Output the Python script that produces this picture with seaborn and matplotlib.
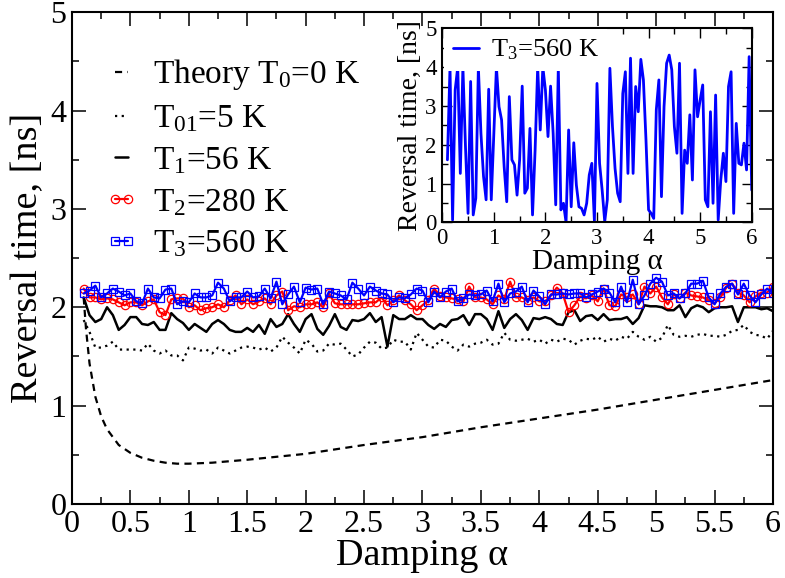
import numpy as np
import pandas as pd
import matplotlib
matplotlib.use("Agg")
import matplotlib.pyplot as plt
from matplotlib.ticker import MultipleLocator
import seaborn as sns

# ---------------- data ----------------
theory_alpha = [0.1, 0.12, 0.15, 0.2, 0.25, 0.3, 0.4, 0.5, 0.6, 0.7, 0.8, 0.9, 1.0,
                1.2, 1.5, 2.0, 2.5, 3.0, 3.5, 4.0, 4.5, 5.0, 5.5, 6.0]
theory_T0 = [2.10, 1.78, 1.43, 1.09, 0.89, 0.76, 0.60, 0.52, 0.47, 0.44, 0.42, 0.41, 0.41,
             0.42, 0.45, 0.51, 0.60, 0.68, 0.78, 0.87, 0.96, 1.06, 1.16, 1.26]

T01_5K = [1.87, 1.75, 1.59, 1.59, 1.61, 1.65, 1.57, 1.57, 1.57, 1.57, 1.56, 1.63, 1.56, 1.53,
          1.56, 1.51, 1.51, 1.46, 1.59, 1.58, 1.56, 1.57, 1.53, 1.59, 1.56, 1.53, 1.56, 1.59,
          1.60, 1.59, 1.57, 1.59, 1.55, 1.59, 1.70, 1.64, 1.59, 1.53, 1.67,
          1.63, 1.55, 1.56, 1.63, 1.62, 1.63, 1.57, 1.50, 1.52, 1.59, 1.65, 1.64, 1.58, 1.59,
          1.67, 1.65, 1.65, 1.57, 1.74, 1.67, 1.60, 1.59, 1.67, 1.66, 1.60, 1.56, 1.62, 1.60,
          1.63, 1.64, 1.67, 1.62, 1.63, 1.74, 1.67, 1.66, 1.67, 1.68, 1.65, 1.67,
          1.63, 1.67, 1.65, 1.68, 1.67, 1.62, 1.66, 1.68, 1.67, 1.70, 1.65, 1.68, 1.66, 1.70,
          1.68, 1.75, 1.70, 1.67, 1.70, 1.65, 1.69, 1.82, 1.72, 1.70, 1.71, 1.70, 1.72, 1.73,
          1.71, 1.71, 1.70, 1.72, 1.76, 1.77, 1.82, 1.75, 1.72, 1.71, 1.68, 1.76]

T1_56K = [2.10, 1.92, 1.85, 1.88, 2.00, 1.92, 1.77, 1.82, 1.90, 1.90, 1.83, 1.82, 1.85, 1.77,
          1.77, 1.94, 1.88, 1.84, 1.77, 1.83, 1.79, 1.75, 1.83, 1.87, 1.83, 1.77, 1.75, 1.75,
          1.79, 1.75, 1.82, 1.73, 1.88, 1.80, 1.83, 1.93, 1.83, 1.75, 1.88,
          1.93, 1.78, 1.72, 1.81, 1.93, 1.80, 1.77, 1.87, 1.86, 1.88, 1.94, 1.85, 1.90, 1.60,
          1.92, 1.88, 1.88, 1.92, 1.88, 1.88, 1.82, 1.78, 1.83, 1.80, 1.87, 1.88, 1.92, 1.82,
          1.93, 1.93, 1.88, 1.77, 1.96, 1.79, 1.88, 1.93, 1.87, 1.77, 1.89, 1.88,
          1.90, 1.88, 1.83, 1.82, 1.95, 1.97, 1.86, 1.91, 1.92, 1.87, 1.93, 1.87, 1.88, 1.88,
          1.90, 1.83, 1.89, 2.02, 2.01, 2.01, 2.00, 1.97, 1.97, 2.02, 1.90, 1.99, 2.02, 2.00,
          1.95, 1.99, 2.00, 2.00, 2.01, 1.85, 2.00, 2.00, 2.00, 1.98, 1.99, 1.96]

T2_280K = [2.19, 2.10, 2.10, 2.08, 2.09, 2.08, 2.05, 2.02, 2.05, 2.05, 2.02, 2.06, 2.08, 1.95,
           1.92, 2.08, 2.09, 2.09, 2.00, 2.02, 1.97, 1.99, 2.00, 2.03, 2.00, 2.07, 2.12, 2.03,
           2.08, 2.03, 2.06, 2.09, 2.03, 2.12, 2.16, 1.97, 2.01, 2.00, 2.03,
           2.03, 2.05, 2.00, 2.14, 2.04, 2.03, 2.03, 2.03, 2.03, 2.04, 2.05, 2.05, 2.10, 2.02,
           2.07, 2.12, 2.07, 2.03, 1.97, 2.02, 2.07, 2.19, 2.11, 2.10, 2.09, 2.08, 2.06, 2.21,
           2.10, 2.10, 2.08, 2.03, 2.12, 2.08, 2.26, 2.10, 2.10, 2.07, 2.10, 2.06,
           2.06, 2.12, 2.20, 2.14, 1.95, 2.02, 2.11, 2.09, 2.12, 2.06, 2.19, 2.02, 2.01, 2.13,
           2.10, 2.13, 2.03, 2.21, 2.14, 2.21, 2.10, 2.03, 2.13, 2.09, 2.15, 2.12, 2.11, 2.10,
           2.07, 2.04, 2.10, 2.20, 2.24, 2.15, 2.12, 2.05, 2.11, 2.15, 2.15, 2.21]

T3_560K = [2.14, 2.17, 2.22, 2.10, 2.14, 2.19, 2.16, 2.12, 2.14, 2.06, 2.04, 2.19, 2.10, 2.09,
           2.18, 2.19, 2.03, 2.06, 2.05, 2.14, 2.10, 2.10, 2.12, 2.25, 2.19, 2.06, 2.10, 2.10,
           2.16, 2.10, 2.11, 2.19, 2.09, 2.26, 2.03, 2.13, 2.21, 2.05, 2.20,
           2.18, 2.19, 2.03, 2.16, 2.14, 2.12, 2.08, 2.25, 2.19, 2.12, 2.21, 2.17, 2.14, 2.13,
           2.05, 2.10, 2.09, 2.13, 2.19, 2.17, 2.05, 2.16, 2.10, 2.16, 2.19, 2.06, 2.09, 2.13,
           2.12, 2.13, 2.17, 2.06, 2.24, 2.05, 2.14, 2.16, 2.21, 2.05, 2.17, 2.11,
           2.03, 2.13, 2.13, 2.14, 2.13, 2.14, 2.14, 2.10, 2.13, 2.16, 2.19, 2.15, 2.05, 2.21,
           2.05, 2.28, 2.03, 2.12, 2.24, 2.30, 2.26, 2.12, 2.14, 2.09, 2.14, 2.24, 2.24, 2.27,
           2.10, 2.03, 2.14, 2.21, 2.24, 2.13, 2.24, 2.12, 2.05, 2.13, 2.19, 2.14]

# inset: single-run reversal times at T3 = 560 K
inset_T3 = [1.61, 4.00, 0.06, 3.41, 4.00, 1.26, 4.00, 1.95, 0.23, 3.63, 0.19, 0.62, 4.00, 2.29,
            1.18, 0.58, 3.43, 0.58, 2.29, 4.00, 2.98, 2.64, 1.43, 0.53, 3.24, 1.61, 1.48, 0.70,
            1.61, 3.51, 0.75, 0.88, 2.42, 0.19, 1.86, 4.00, 2.38, 4.00, 3.41, 2.21, 3.51, 2.29,
            0.45, 4.00, 0.32, 0.49, 0.00, 2.38, 0.40, 2.05, 0.96, 0.40, 0.36, 0.19, 0.49, 1.22,
            1.52, 0.02, 3.58, 1.52, 0.83, 0.02, 0.58, 3.97, 2.47, 1.39, 0.75, 0.53, 3.32, 3.88,
            1.26, 4.23, 1.26, 3.50, 2.85, 4.20, 3.67, 2.12, 0.32, 0.23, 0.10, 2.90, 3.67, 0.66,
            2.98, 4.10, 4.31, 3.93, 2.47, 1.78, 4.10, 0.23, 1.86, 1.52, 2.77, 1.09, 3.93, 2.72,
            3.15, 3.54, 0.58, 0.40, 2.85, 0.49, 3.28, 0.06, 1.09, 1.78, 1.05, 3.50, 3.88, 0.23,
            2.55, 1.52, 1.48, 2.04, 1.35, 4.27, 0.83]

n = len(T3_560K)
assert n == len(T2_280K) == len(T1_56K) == len(T01_5K) == len(inset_T3) == 119
alpha = np.round(0.1 + 0.05 * np.arange(n), 2)

df = pd.DataFrame({"alpha": alpha, "T01": T01_5K, "T1": T1_56K,
                   "T2": T2_280K, "T3": T3_560K, "inset": inset_T3})
df_th = pd.DataFrame({"alpha": theory_alpha, "T0": theory_T0})

# ---------------- style ----------------
sns.set_theme(style="ticks")
plt.rcParams["font.family"] = ["Liberation Serif", "DejaVu Serif"]
plt.rcParams["mathtext.fontset"] = "stix"
plt.rcParams["axes.linewidth"] = 1.5
plt.rcParams["axes.edgecolor"] = "black"
plt.rcParams["xtick.color"] = "black"
plt.rcParams["ytick.color"] = "black"
plt.rcParams["text.color"] = "black"
plt.rcParams["axes.labelcolor"] = "black"

fig = plt.figure(figsize=(7.85, 5.78), dpi=100)
ax = fig.add_axes([0.0917, 0.128, 0.893, 0.851])

sns.lineplot(data=df_th, x="alpha", y="T0", ax=ax, color="black", lw=1.6,
             linestyle=(0, (3.2, 2.4)), label=r"Theory T$\mathregular{_0}$=0 K",
             sort=False, errorbar=None)
sns.lineplot(data=df, x="alpha", y="T01", ax=ax, color="black", lw=1.6,
             linestyle=(0, (1, 2.0)), label=r"T$\mathregular{_{01}}$=5 K",
             sort=False, errorbar=None)
sns.lineplot(data=df, x="alpha", y="T1", ax=ax, color="black", lw=1.8,
             label=r"T$\mathregular{_1}$=56 K", sort=False, errorbar=None)
sns.lineplot(data=df, x="alpha", y="T2", ax=ax, color="#ff0000", lw=1.6,
             marker="o", markersize=6, markerfacecolor="none",
             markeredgecolor="#ff0000", markeredgewidth=0.9,
             label=r"T$\mathregular{_2}$=280 K", sort=False, errorbar=None)
sns.lineplot(data=df, x="alpha", y="T3", ax=ax, color="#0000ff", lw=1.6,
             marker="s", markersize=5.5, markerfacecolor="none",
             markeredgecolor="#0000ff", markeredgewidth=0.9,
             label=r"T$\mathregular{_3}$=560 K", sort=False, errorbar=None)

ax.set_xlim(0, 6)
ax.set_ylim(0, 5)
ax.xaxis.set_major_locator(MultipleLocator(0.5))
ax.xaxis.set_minor_locator(MultipleLocator(0.25))
ax.yaxis.set_major_locator(MultipleLocator(1))
ax.yaxis.set_minor_locator(MultipleLocator(0.5))
ax.xaxis.set_major_formatter(plt.FuncFormatter(lambda v, p: f"{v:g}"))
ax.tick_params(which="both", direction="in", top=True, right=True, width=1.1)
ax.tick_params(which="major", length=10, labelsize=23, pad=4)
ax.tick_params(which="minor", length=5)
ax.set_xlabel("Damping α", fontsize=27.5, labelpad=0)
ax.set_ylabel("Reversal time, [ns]", fontsize=27.5, labelpad=4)

leg = ax.legend(loc="upper left", bbox_to_anchor=(0.028, 0.935), frameon=False,
                fontsize=24, handlelength=1.0, handletextpad=0.45, numpoints=2,
                labelspacing=0.33, borderaxespad=0)

# ---------------- inset ----------------
axin = fig.add_axes([0.5634, 0.6154, 0.3942, 0.3356])
sns.lineplot(data=df, x="alpha", y="inset", ax=axin, color="#0000ff", lw=2.0,
             label=r"T$\mathregular{_3}$=560 K", sort=False, errorbar=None)
axin.set_xlim(0, 6)
axin.set_ylim(0, 5)
axin.xaxis.set_major_locator(MultipleLocator(1))
axin.xaxis.set_minor_locator(MultipleLocator(0.5))
axin.yaxis.set_major_locator(MultipleLocator(1))
axin.yaxis.set_minor_locator(MultipleLocator(0.5))
axin.tick_params(which="both", direction="in", top=True, right=True, width=1.0)
axin.tick_params(which="major", length=7, labelsize=16.5, pad=4)
axin.tick_params(which="minor", length=4)
axin.set_xlabel("Damping α", fontsize=21, labelpad=0)
axin.set_ylabel("Reversal time, [ns]", fontsize=20, labelpad=2)
lg2 = axin.legend(loc="upper left", bbox_to_anchor=(0.006, 0.995), frameon=True,
                  fancybox=False, fontsize=19, handlelength=1.0, handletextpad=0.45,
                  borderaxespad=0, borderpad=0.32)
lg2.get_frame().set_facecolor("white")
lg2.get_frame().set_edgecolor("none")
lg2.get_frame().set_alpha(1.0)

fig.savefig("out.png", dpi=100)
